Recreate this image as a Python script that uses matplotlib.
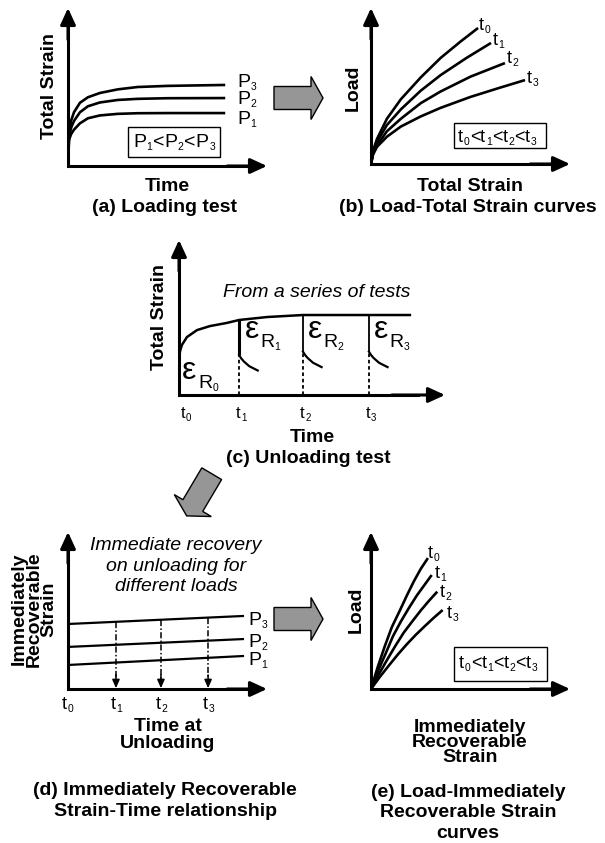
import numpy as np
import matplotlib
matplotlib.use('Agg')
from matplotlib import pyplot as plt
from matplotlib.patches import FancyArrowPatch, FancyArrow, Rectangle

plt.rcParams['font.family'] = ['Liberation Sans', 'DejaVu Sans']

W, H = 605, 843

# (a) loading test - total strain vs time, three loads
a_time = [0, 0.05, 0.15, 0.3, 0.6, 1.0, 1.6, 2.5, 3.5, 5.0, 7.9]
a_P1 = [0, 1.65, 2.0, 2.3, 2.7, 3.02, 3.2, 3.3, 3.34, 3.35, 3.35]
a_P2 = [0, 1.8, 2.4, 2.85, 3.4, 3.78, 4.02, 4.18, 4.25, 4.29, 4.30]
a_P3 = [0, 2.1, 2.85, 3.4, 4.0, 4.35, 4.62, 4.85, 5.0, 5.07, 5.13]

# (b) load vs total strain at t0..t3
b_t0_x = [0, 0.1, 0.3, 0.8, 1.5, 2.5, 3.5, 4.5, 5.38]
b_t0_y = [0, 0.85, 1.6, 2.9, 4.15, 5.55, 6.8, 7.85, 8.72]
b_t1_x = [0, 0.1, 0.3, 0.8, 1.5, 2.5, 3.5, 4.8, 6.03]
b_t1_y = [0, 0.75, 1.42, 2.5, 3.5, 4.7, 5.7, 6.8, 7.76]
b_t2_x = [0, 0.1, 0.3, 0.8, 1.5, 2.5, 3.5, 5.0, 6.73]
b_t2_y = [0, 0.65, 1.2, 2.1, 2.9, 3.9, 4.65, 5.6, 6.47]
b_t3_x = [0, 0.1, 0.3, 0.8, 1.5, 2.5, 3.5, 5.0, 6.5, 7.74]
b_t3_y = [0, 0.6, 1.1, 1.75, 2.4, 3.05, 3.6, 4.3, 4.9, 5.38]

# (c) unloading test
c_time = [0, 0, 0.05, 0.11, 0.3, 0.68, 1.17, 1.8, 2.26, 3.31, 4.66, 8.68]
c_strain = [0, 2.45, 2.9, 3.23, 3.74, 4.19, 4.45, 4.65, 4.84, 5.03, 5.16, 5.16]
c_unload_t = [2.26, 4.66, 7.14]
c_rec_top = [2.58, 2.8, 2.8]
c_rec_dx = [0, 0.08, 0.18, 0.38, 0.7]
c_rec_drop = [0, 0.22, 0.42, 0.72, 1.0]

# (d) immediately recoverable strain vs time at unloading
d_time = [0, 8.79]
d_P1 = [1.53, 2.10]
d_P2 = [2.68, 3.18]
d_P3 = [4.14, 4.65]
d_ticks = [2.41, 4.67, 7.04]

# (e) load vs immediately recoverable strain
e_t0_x = [0, 0.35, 0.7, 1.05, 1.45, 1.8, 2.15, 2.5, 2.86]
e_t0_y = [0, 1.45, 2.75, 3.95, 5.0, 5.95, 6.85, 7.65, 8.34]
e_t1_x = [0, 0.37, 0.75, 1.1, 1.5, 1.9, 2.3, 2.7, 3.05]
e_t1_y = [0, 1.2, 2.3, 3.35, 4.3, 5.15, 5.95, 6.65, 7.26]
e_t2_x = [0, 0.42, 0.85, 1.25, 1.65, 2.1, 2.5, 2.9, 3.33]
e_t2_y = [0, 1.0, 1.95, 2.8, 3.6, 4.35, 5.0, 5.6, 6.2]
e_t3_x = [0, 0.45, 0.9, 1.35, 1.8, 2.25, 2.7, 3.15, 3.6]
e_t3_y = [0, 0.78, 1.5, 2.2, 2.85, 3.45, 4.0, 4.53, 5.03]

fig = plt.figure(figsize=(W / 100, H / 100), dpi=100)
fig.patch.set_facecolor('white')

# overlay in pixel units for labels and block arrows
ov = fig.add_axes([0, 0, 1, 1], zorder=5)
ov.set_xlim(0, W)
ov.set_ylim(H, 0)
ov.axis('off')
rend = fig.canvas.get_renderer()


def panel(x0, y0, x1, y1):
    ax = fig.add_axes([x0 / W, (H - y0) / H, (x1 - x0) / W, (y0 - y1) / H])
    ax.set_xlim(0, 10)
    ax.set_ylim(0, 10)
    ax.axis('off')
    ax.plot([0, 0, 9], [9, 0, 0], color='k', lw=2.2, solid_joinstyle='miter',
            solid_capstyle='projecting', clip_on=False)
    for pa, pb in [((0, 8), (0, 10)), ((8, 0), (10, 0))]:
        ax.add_patch(FancyArrowPatch(pa, pb, arrowstyle='-|>,head_length=10,head_width=4.6',
                                     mutation_scale=1, color='k', lw=2.2, shrinkA=0, shrinkB=0,
                                     clip_on=False))
    return ax


def rich(x, y, s, fs=14, sfs=7.5, drop=3, weight='normal'):
    # 'P_1<P_2' -> P with small subscript 1 etc.
    i = 0
    while i < len(s):
        if s[i] == '_':
            t = ov.text(x + 0.5, y + drop, s[i + 1], fontsize=sfs, va='baseline', ha='left')
            i += 2
            x += t.get_window_extent(rend).width + 1
        else:
            t = ov.text(x, y, s[i], fontsize=fs, va='baseline', ha='left', fontweight=weight)
            i += 1
            x += t.get_window_extent(rend).width
    return x


def label(x, y, s, fs=14, ls=1.2, **kw):
    # y = baseline of the last line
    ov.text(x, y, s, fontsize=fs, ha='center', va='baseline', fontweight='bold',
            multialignment='center', linespacing=ls, **kw)


def box(ax, x0, y0, x1, y1):
    ax.add_patch(Rectangle((x0, y0), x1 - x0, y1 - y0, fill=False, ec='k', lw=1.0))


# ---- (a)
ax = panel(68, 166, 267, 8)
for yv in [a_P1, a_P2, a_P3]:
    ax.plot(a_time, yv, color='k', lw=1.9, solid_capstyle='butt')
box(ax, 3.02, 0.57, 7.64, 2.47)
rich(237, 87, 'P_3')
rich(237, 104, 'P_2')
rich(237, 124, 'P_1')
rich(133, 147, 'P_1<P_2<P_3')
ov.text(50, 86, 'Total Strain', rotation=90, ha='center', va='center', fontsize=14, fontweight='bold')
label(167, 191, 'Time')
label(165, 212, '(a) Loading test')

# ---- (b)
ax = panel(371, 164, 570, 8)
for xv, yv in [(b_t0_x, b_t0_y), (b_t1_x, b_t1_y), (b_t2_x, b_t2_y), (b_t3_x, b_t3_y)]:
    ax.plot(xv, yv, color='k', lw=1.9, solid_capstyle='butt')
box(ax, 4.17, 1.03, 8.79, 2.63)
rich(479, 30, 't_0', fs=13)
rich(493, 45, 't_1', fs=13)
rich(507, 63, 't_2', fs=13)
rich(527, 83, 't_3', fs=13)
rich(458, 142, 't_0<t_1<t_2<t_3', fs=13)
ov.text(353, 88, 'Load', rotation=90, ha='center', va='center', fontsize=14, fontweight='bold')
label(470, 191, 'Total Strain')
label(468, 212, '(b) Load-Total Strain curves')

# ---- (c)
ax = panel(179, 395, 445, 240)
ax.plot(c_time, c_strain, color='k', lw=1.8)
yc = np.interp(c_unload_t, c_time, c_strain)
for k, (tu, top) in enumerate(zip(c_unload_t, c_rec_top)):
    ax.plot([tu, tu], [yc[k], top], color='k', lw=2.2 if k == 0 else 1.3, solid_capstyle='butt')
    ax.plot([tu, tu], [0, top], color='k', lw=1.3, linestyle=(0, (2, 1.5)))
    ax.plot(np.add(tu, c_rec_dx), np.subtract(top, c_rec_drop), color='k', lw=1.6)
eps_x = [245, 308, 374]
ov.text(182, 379, 'ε', fontsize=23, va='baseline', ha='left')
rich(198, 388, 'R_0', fs=14)
for k, xe in enumerate(eps_x):
    ov.text(xe, 338, 'ε', fontsize=23, va='baseline', ha='left')
    rich(xe + 15, 347, 'R_%d' % (k + 1), fs=14)
ax_to_px = lambda v: 179 + v * 26.6
rich(ax_to_px(0) + 2, 418, 't_0', fs=12, sfs=7)
for k, tu in enumerate(c_unload_t):
    rich(ax_to_px(tu) - 3, 418, 't_%d' % (k + 1), fs=12, sfs=7)
ov.text(317, 297, 'From a series of tests', ha='center', va='baseline', fontsize=14, style='italic')
ov.text(160, 317, 'Total Strain', rotation=90, ha='center', va='center', fontsize=14, fontweight='bold')
label(312, 442, 'Time')
label(308, 463, '(c) Unloading test')

# ---- (d)
ax = panel(68, 689, 267, 532)
for yv in [d_P1, d_P2, d_P3]:
    ax.plot(d_time, yv, color='k', lw=1.6)
for tk in d_ticks:
    top = np.interp(tk, d_time, d_P3)
    ax.plot([tk, tk], [top, 0.5], color='k', lw=1.1, linestyle=(0, (4, 1.5, 1, 1.5)))
    ax.annotate('', xy=(tk, 0.05), xytext=(tk, 0.9),
                arrowprops=dict(arrowstyle='-|>,head_length=0.5,head_width=0.22', color='k', lw=1.1,
                                shrinkA=0, shrinkB=0))
rich(248, 625, 'P_3')
rich(248, 647, 'P_2')
rich(248, 665, 'P_1')
rich(62, 709, 't_0', fs=13)
for k, tk in enumerate(d_ticks):
    rich(68 + tk * 19.9 - 5, 709, 't_%d' % (k + 1), fs=13)
ov.text(176, 591, 'Immediate recovery\non unloading for\ndifferent loads', ha='center', va='baseline',
        fontsize=14, style='italic', multialignment='center', linespacing=1.25)
ov.text(34, 609, 'Immediately\nRecoverable\nStrain', rotation=90, ha='center', va='center',
        fontsize=14, fontweight='bold', multialignment='center', linespacing=0.84)
label(168, 748, 'Time at\nUnloading', ls=0.98)
label(165, 816, '(d) Immediately Recoverable\nStrain-Time relationship', ls=1.27)

# ---- (e)
ax = panel(371, 689, 570, 532)
for xv, yv in [(e_t0_x, e_t0_y), (e_t1_x, e_t1_y), (e_t2_x, e_t2_y), (e_t3_x, e_t3_y)]:
    ax.plot(xv, yv, color='k', lw=1.9, solid_capstyle='butt')
box(ax, 4.17, 0.51, 8.84, 2.68)
rich(428, 558, 't_0', fs=13)
rich(435, 578, 't_1', fs=13)
rich(440, 597, 't_2', fs=13)
rich(447, 618, 't_3', fs=13)
rich(459, 668, 't_0<t_1<t_2<t_3', fs=13)
ov.text(356, 610, 'Load', rotation=90, ha='center', va='center', fontsize=14, fontweight='bold')
label(470, 762, 'Immediately\nRecoverable\nStrain', ls=0.84)
label(468, 838, '(e) Load-Immediately\nRecoverable Strain\ncurves', ls=1.27)

# block arrows between panels
for x, y, dx, dy in [(274, 98, 49, 0), (274, 619, 49, 0), (211.7, 473.7, -25, 42.2)]:
    ov.add_patch(FancyArrow(x, y, dx, dy, width=23, head_width=43, head_length=12,
                            length_includes_head=True, fc='#969696', ec='k', lw=1.0))

fig.savefig('out.png', dpi=100)
